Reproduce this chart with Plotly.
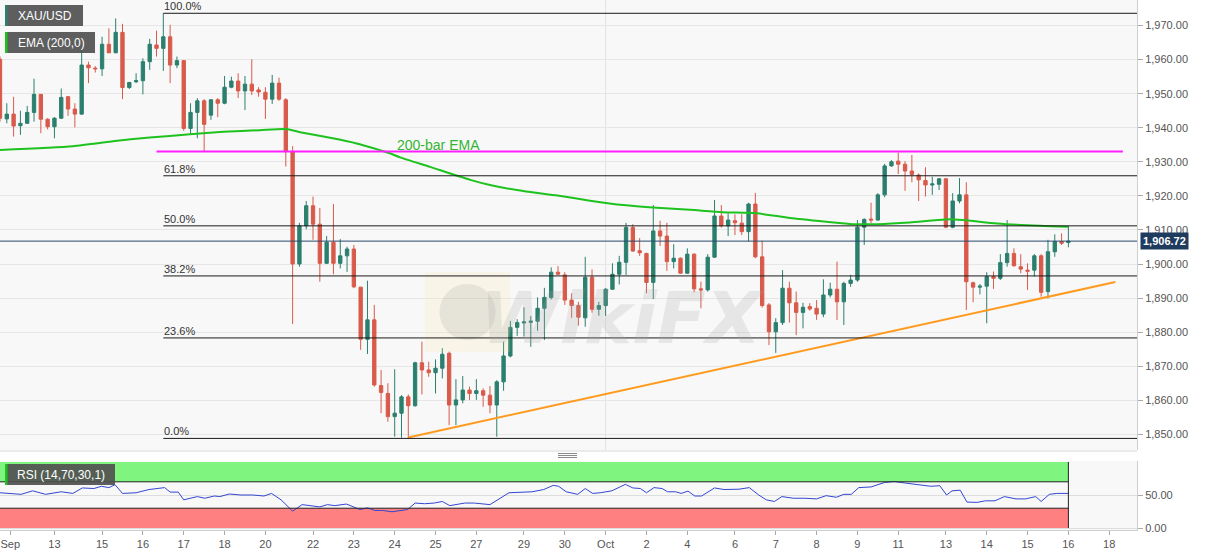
import plotly.graph_objects as go

# ---------------- data (4H XAU/USD candles, index = bar number) ----------------
opens = [1960.1, 1942.6, 1944.0, 1940.6, 1941.3, 1944.5, 1949.8, 1942.5, 1940.3, 1942.8,
         1949.1, 1945.5, 1944.0, 1958.4, 1957.5, 1957.3, 1964.5, 1962.0, 1968.0, 1951.8,
         1953.5, 1953.8, 1959.4, 1964.3, 1963.3, 1966.7, 1958.4, 1959.7, 1939.8, 1944.5,
         1947.9, 1943.7, 1948.2, 1947.2, 1951.9, 1953.7, 1950.8, 1952.8, 1951.1, 1950.4,
         1948.4, 1953.1, 1948.2, 1933.0, 1900.0, 1911.2, 1917.1, 1911.7, 1900.2, 1906.4,
         1900.2, 1902.4, 1904.4, 1893.2, 1877.9, 1883.6, 1864.3, 1862.0, 1855.2, 1856.2,
         1861.0, 1858.4, 1871.0, 1868.9, 1868.1, 1869.4, 1873.8, 1858.6, 1860.1, 1863.0,
         1862.0, 1862.8, 1861.5, 1858.6, 1865.4, 1873.0, 1881.4, 1882.7, 1882.9, 1883.2,
         1887.0, 1890.2, 1897.6, 1896.8, 1889.4, 1887.8, 1884.2, 1896.1, 1886.7, 1887.8,
         1892.6, 1897.0, 1900.5, 1910.7, 1903.9, 1903.1, 1894.6, 1909.7, 1908.2, 1900.7,
         1901.7, 1897.3, 1902.9, 1892.7, 1892.4, 1902.0, 1914.1, 1911.2, 1912.7, 1912.0,
         1909.5, 1917.6, 1902.1, 1888.0, 1880.1, 1882.8, 1892.9, 1888.6, 1885.8, 1887.5,
         1887.0, 1885.3, 1890.9, 1892.6, 1888.9, 1894.3, 1895.3, 1910.8, 1913.2, 1912.9,
         1920.3, 1928.8, 1930.2, 1929.3, 1927.3, 1926.1, 1924.5, 1923.2, 1923.4, 1925.0,
         1910.8, 1918.5, 1920.3, 1894.5, 1893.2, 1893.5, 1896.3, 1895.8, 1900.4, 1903.1,
         1899.2, 1898.2, 1898.2, 1902.4, 1891.9, 1903.6, 1906.6, 1906.3]
highs = [1960.9, 1947.2, 1949.1, 1945.0, 1946.4, 1954.4, 1949.9, 1942.8, 1943.1, 1951.5,
         1949.3, 1947.2, 1962.8, 1959.4, 1958.1, 1966.7, 1969.2, 1972.1, 1970.5, 1953.4,
         1956.0, 1960.4, 1966.1, 1968.5, 1973.6, 1970.2, 1960.9, 1959.9, 1947.2, 1948.7,
         1948.4, 1948.4, 1948.7, 1955.2, 1955.0, 1956.0, 1955.2, 1960.1, 1951.9, 1951.9,
         1955.5, 1954.7, 1948.7, 1934.6, 1912.1, 1918.5, 1919.8, 1916.4, 1908.2, 1917.6,
         1907.3, 1905.1, 1905.6, 1893.3, 1895.1, 1888.0, 1868.9, 1865.0, 1869.1, 1861.5,
         1861.7, 1871.3, 1877.2, 1871.3, 1872.0, 1875.3, 1874.3, 1866.2, 1867.1, 1864.0,
         1866.2, 1863.5, 1864.2, 1865.9, 1877.2, 1883.3, 1883.8, 1887.3, 1884.7, 1890.2,
         1893.0, 1899.0, 1899.4, 1897.6, 1891.4, 1888.9, 1902.1, 1898.4, 1888.9, 1892.9,
         1900.2, 1902.4, 1912.1, 1911.7, 1907.6, 1903.3, 1917.3, 1912.7, 1912.1, 1905.8,
         1901.9, 1904.6, 1903.1, 1894.8, 1902.9, 1918.8, 1917.3, 1914.9, 1914.6, 1914.6,
         1918.0, 1920.9, 1906.8, 1888.5, 1884.1, 1898.2, 1894.8, 1891.9, 1888.6, 1888.5,
         1889.4, 1895.5, 1894.5, 1900.7, 1894.8, 1896.8, 1912.9, 1913.4, 1918.0, 1920.8,
         1929.4, 1930.5, 1932.7, 1930.2, 1932.0, 1926.6, 1928.4, 1925.6, 1925.2, 1925.2,
         1920.8, 1925.2, 1924.0, 1894.8, 1894.1, 1897.6, 1897.8, 1902.9, 1912.9, 1904.6,
         1902.9, 1900.2, 1902.9, 1902.9, 1907.1, 1908.7, 1909.0, 1911.2]
lows = [1941.8, 1941.3, 1937.4, 1937.9, 1941.1, 1941.8, 1938.4, 1939.5, 1936.9, 1942.6,
        1943.5, 1940.1, 1943.8, 1953.1, 1956.2, 1955.2, 1961.9, 1961.9, 1948.4, 1951.4,
        1953.1, 1949.8, 1957.0, 1960.9, 1956.7, 1953.1, 1957.5, 1939.1, 1937.9, 1936.9,
        1933.0, 1942.3, 1943.1, 1946.9, 1951.6, 1948.7, 1945.2, 1949.6, 1949.1, 1942.6,
        1947.0, 1947.9, 1928.6, 1882.4, 1899.2, 1910.2, 1907.1, 1894.8, 1900.0, 1897.0,
        1898.7, 1897.7, 1892.9, 1874.8, 1873.6, 1864.0, 1856.2, 1853.7, 1849.3, 1849.0,
        1848.8, 1858.1, 1861.7, 1866.9, 1862.0, 1866.4, 1852.7, 1852.7, 1859.1, 1860.1,
        1860.1, 1858.1, 1856.2, 1849.3, 1862.8, 1872.6, 1878.9, 1878.7, 1875.7, 1880.4,
        1877.7, 1889.6, 1896.8, 1888.0, 1884.2, 1881.9, 1881.6, 1885.7, 1884.8, 1884.7,
        1892.4, 1894.0, 1896.8, 1903.6, 1902.4, 1891.4, 1889.7, 1905.3, 1898.0, 1898.7,
        1897.2, 1897.1, 1891.7, 1887.0, 1891.9, 1901.8, 1910.7, 1908.2, 1908.5, 1908.5,
        1906.6, 1901.7, 1887.2, 1876.2, 1873.9, 1882.1, 1882.8, 1879.1, 1881.1, 1886.3,
        1883.6, 1884.4, 1890.2, 1883.6, 1882.1, 1893.3, 1894.8, 1905.6, 1912.0, 1912.7,
        1919.6, 1928.6, 1926.4, 1921.5, 1924.0, 1918.5, 1919.8, 1920.3, 1921.7, 1910.5,
        1910.5, 1917.8, 1886.5, 1888.8, 1891.1, 1882.6, 1892.7, 1895.3, 1899.2, 1899.2,
        1897.3, 1892.4, 1896.3, 1890.4, 1889.9, 1902.1, 1905.6, 1904.9]
closes = [1942.8, 1944.0, 1940.5, 1941.3, 1944.5, 1949.8, 1942.5, 1940.3, 1942.8, 1948.9,
          1945.5, 1944.0, 1958.4, 1957.6, 1957.3, 1964.5, 1962.0, 1968.0, 1951.8, 1953.3,
          1953.8, 1959.4, 1964.5, 1963.3, 1966.7, 1958.4, 1959.7, 1939.8, 1944.5, 1947.9,
          1941.0, 1948.2, 1947.2, 1951.9, 1953.7, 1950.8, 1952.8, 1950.8, 1950.5, 1948.4,
          1953.1, 1948.4, 1933.0, 1900.0, 1911.2, 1917.1, 1911.7, 1900.2, 1906.4, 1900.2,
          1902.4, 1904.4, 1893.3, 1877.9, 1883.6, 1864.5, 1862.3, 1855.2, 1856.2, 1861.0,
          1858.4, 1871.0, 1868.9, 1868.1, 1869.4, 1873.5, 1858.6, 1860.1, 1863.0, 1862.0,
          1862.8, 1861.5, 1858.6, 1865.4, 1873.0, 1881.4, 1882.8, 1883.0, 1883.2, 1887.0,
          1890.2, 1897.6, 1897.0, 1889.4, 1887.8, 1884.4, 1896.1, 1886.7, 1887.8, 1892.6,
          1897.0, 1900.5, 1910.7, 1903.8, 1903.3, 1894.6, 1909.7, 1908.2, 1900.7, 1901.7,
          1897.3, 1902.9, 1892.7, 1892.4, 1902.0, 1914.1, 1911.2, 1912.9, 1912.1, 1909.5,
          1917.6, 1902.1, 1887.8, 1880.1, 1882.8, 1892.9, 1888.6, 1885.8, 1887.3, 1886.8,
          1885.3, 1890.9, 1892.6, 1888.9, 1894.3, 1895.3, 1910.8, 1913.1, 1912.9, 1920.3,
          1928.8, 1930.0, 1929.3, 1927.3, 1926.3, 1924.7, 1923.2, 1923.5, 1925.0, 1910.8,
          1918.5, 1920.3, 1894.8, 1893.2, 1893.5, 1896.3, 1895.8, 1900.4, 1903.1, 1899.5,
          1898.5, 1897.9, 1902.4, 1891.7, 1903.6, 1906.6, 1906.1, 1906.72]
bar_idx = list(range(len(opens)))

# 200-bar EMA
ema_x = [0, 10.7, 17.2, 22.0, 27.9, 32.8, 38.2, 42.0, 44.1, 48.9, 52.4, 54.9, 57.3, 58.8,
         63.2, 69.1, 72.0, 76.9, 81.9, 86.7, 91.6, 96.5, 101.4, 106.2, 111.2, 116.1, 121.5,
         125.3, 128.9, 133.7, 138.9, 141.5, 146.5, 152.8, 157]
ema_v = [1933.5, 1934.6, 1936.2, 1937.1, 1938.1, 1938.8, 1939.3, 1939.6, 1938.7, 1936.9,
         1935.4, 1934.0, 1932.5, 1931.3, 1928.5, 1924.7, 1923.2, 1921.4, 1920.1, 1918.6,
         1917.3, 1916.5, 1915.9, 1915.2, 1914.9, 1913.5, 1912.4, 1911.7, 1911.7, 1912.2,
         1913.1, 1912.9, 1911.9, 1911.2, 1910.9]

# RSI(14)
rsi_x = [0, 1.7, 3.1, 4.8, 6.7, 9.0, 10.7, 12.1, 13.8, 14.9, 16.0, 16.9, 18.0, 20.0, 21.9,
         24.2, 25.0, 26.2, 27.0, 29.0, 30.1, 31.5, 32.3, 33.7, 35.4, 37.1, 38.8, 39.9, 41.3,
         43.0, 44.4, 47.0, 48.1, 49.2, 50.9, 52.9, 54.0, 55.1, 56.2, 57.6, 58.8, 59.9, 61.0,
         62.4, 63.8, 65.0, 66.1, 68.3, 69.7, 72.0, 74.8, 78.2, 79.9, 81.3, 82.1, 83.2, 84.9,
         86.0, 87.1, 88.2, 89.9, 91.9, 93.0, 94.1, 95.0, 96.1, 97.3, 98.1, 99.3, 100.1,
         101.1, 102.1, 103.1, 105.0, 106.4, 108.6, 110.1, 111.5, 112.6, 113.8, 114.9, 116.6,
         118.3, 120.0, 121.4, 122.9, 124.0, 125.1, 126.2, 128.0, 130.0, 131.4, 133.1, 135.4,
         136.8, 138.1, 139.1, 139.9, 141.1, 142.1, 143.6, 144.8, 146.2, 147.6, 149.3, 150.7,
         152.2, 153.0, 154.2, 155.3, 157.0]
rsi_v = [53.4, 52.4, 51.0, 56.3, 51.0, 54.9, 52.4, 60.7, 59.8, 63.2, 61.2, 65.6, 52.4, 53.4,
         58.3, 61.2, 54.4, 54.4, 42.7, 47.6, 45.1, 48.5, 47.6, 51.5, 50.0, 50.0, 48.5, 52.4,
         42.7, 25.6, 35.4, 32.0, 35.4, 33.9, 36.3, 28.0, 30.5, 26.6, 26.6, 24.6, 26.6, 28.0,
         37.8, 36.8, 37.8, 40.2, 33.9, 37.8, 37.8, 35.4, 53.4, 54.9, 58.3, 64.6, 63.2, 54.9,
         51.0, 59.8, 52.4, 53.4, 56.3, 66.1, 60.7, 59.8, 53.4, 61.2, 59.8, 54.9, 54.9, 52.4,
         55.9, 48.5, 48.5, 60.7, 58.3, 58.8, 61.2, 50.0, 42.7, 40.2, 47.6, 45.1, 45.1, 44.1,
         49.0, 46.6, 51.0, 51.0, 61.2, 62.2, 69.0, 70.5, 68.0, 64.6, 63.2, 64.1, 50.0, 56.3,
         57.3, 39.3, 38.8, 41.2, 41.2, 47.6, 44.1, 44.1, 47.6, 40.2, 51.0, 52.4, 52.4]

# Fibonacci retracement (high 1973.6 -> low 1848.8)
fib_labels = ["100.0%", "61.8%", "50.0%", "38.2%", "23.6%", "0.0%"]
fib_levels = [1973.6, 1925.9, 1911.2, 1896.5, 1878.3, 1848.8]
fib_start = 24

# support trendline and resistance line
trend_x = [60, 163.9]
trend_y = [1849.1, 1894.7]
res_x = [23.0, 165.0]
res_level = 1933.0
last_price = 1906.72

tick_pos = [1.5, 8, 15, 21, 27, 33, 39, 46, 52, 58, 64, 70, 77, 83, 89, 95, 101, 108, 114,
            120, 126, 132, 139, 145, 151, 157, 163]
tick_txt = ["Sep", "13", "15", "16", "17", "18", "20", "22", "23", "24", "25", "27", "29",
            "30", "Oct", "2", "4", "6", "7", "8", "9", "11", "13", "14", "15", "16", "18"]
month_break = 89

# ---------------- layout geometry ----------------
W, H = 1207, 555
MR, MB = 70, 25
PW, PH = W - MR, H - MB
BAR_PX = 6.805
XMIN, XMAX = 0, PW / BAR_PX


def px(x):
    return x / PW


def py(y):
    return (PH - y) / PH


TEAL = "#2b7f6e"
RED = "#d85a4a"
FONT = "Arial"

fig = go.Figure()
fig.add_trace(go.Candlestick(
    x=bar_idx, open=opens, high=highs, low=lows, close=closes,
    increasing=dict(line=dict(color=TEAL, width=1), fillcolor=TEAL),
    decreasing=dict(line=dict(color=RED, width=1), fillcolor=RED),
    whiskerwidth=0, hoverinfo="skip", showlegend=False, xaxis="x", yaxis="y"))
fig.add_trace(go.Scatter(x=ema_x, y=ema_v, mode="lines",
                         line=dict(color="#1ec21e", width=2, shape="spline", smoothing=0.6),
                         hoverinfo="skip", showlegend=False, xaxis="x", yaxis="y"))
fig.add_trace(go.Scatter(x=trend_x, y=trend_y, mode="lines",
                         line=dict(color="#ff9a1e", width=2),
                         hoverinfo="skip", showlegend=False, xaxis="x", yaxis="y"))
fig.add_trace(go.Scatter(x=res_x, y=[res_level, res_level], mode="lines",
                         line=dict(color="#ff1eff", width=2),
                         hoverinfo="skip", showlegend=False, xaxis="x", yaxis="y"))
fig.add_trace(go.Scatter(x=rsi_x, y=rsi_v, mode="lines",
                         line=dict(color="#3346d2", width=1),
                         hoverinfo="skip", showlegend=False, xaxis="x2", yaxis="y2"))

shapes = []
annotations = []

# faint watermark logo
wm_x0, wm_y0, wm_x1, wm_y1 = 425, 272, 510, 352
shapes.append(dict(type="rect", xref="paper", yref="paper", x0=px(wm_x0), x1=px(wm_x1),
                   y0=py(wm_y1), y1=py(wm_y0), fillcolor="rgba(250,225,140,0.16)",
                   line=dict(width=0)))
cx, cy, r = (wm_x0 + wm_x1) / 2, (wm_y0 + wm_y1) / 2, (wm_x1 - wm_x0) * 0.33
shapes.append(dict(type="circle", xref="paper", yref="paper", x0=px(cx - r), x1=px(cx + r),
                   y0=py(cy + r), y1=py(cy - r), fillcolor="rgba(150,150,150,0.18)",
                   line=dict(width=0)))
annotations.append(dict(x=px(622), y=py(318), xref="paper", yref="paper",
                        text="<b><i>WikiFX</i></b>", showarrow=False,
                        font=dict(family="DejaVu Sans", size=72,
                                  color="rgba(170,170,170,0.22)")))

# month vertical grid line
shapes.append(dict(type="line", xref="x", yref="y", x0=month_break, x1=month_break,
                   y0=1845.4, y1=1977.5, line=dict(color="#e2e2e2", width=1), layer="below"))
# last price line
shapes.append(dict(type="line", xref="x", yref="y", x0=XMIN, x1=XMAX, y0=last_price,
                   y1=last_price, line=dict(color="#2a4a6c", width=1)))
# fib lines + labels
for lab, lev in zip(fib_labels, fib_levels):
    shapes.append(dict(type="line", xref="x", yref="y", x0=fib_start, x1=XMAX, y0=lev, y1=lev,
                       line=dict(color="#1a1a1a", width=1)))
    annotations.append(dict(x=fib_start, y=lev, xref="x", yref="y", text=lab, showarrow=False,
                            xanchor="left", yanchor="bottom", xshift=-1, yshift=-1,
                            font=dict(family=FONT, size=11, color="#333")))
annotations.append(dict(x=58.0, y=1934.9, xref="x", yref="y", text="200-bar EMA",
                        showarrow=False, xanchor="left", yanchor="middle",
                        font=dict(family=FONT, size=14, color="#33b533")))

# RSI bands
shapes.append(dict(type="rect", xref="x2", yref="y2", x0=XMIN - 1, x1=157, y0=70, y1=100,
                   fillcolor="#7ff57f", line=dict(width=0), layer="below"))
shapes.append(dict(type="rect", xref="x2", yref="y2", x0=XMIN - 1, x1=157, y0=0, y1=30,
                   fillcolor="#ff8080", line=dict(width=0), layer="below"))
for lv in (70, 30):
    shapes.append(dict(type="line", xref="x2", yref="y2", x0=XMIN, x1=157, y0=lv, y1=lv,
                       line=dict(color="#222", width=1)))
shapes.append(dict(type="line", xref="x2", yref="y2", x0=157, x1=157, y0=0, y1=100,
                   line=dict(color="#222", width=1)))

# pane separator + handle
shapes.append(dict(type="line", xref="paper", yref="paper", x0=0, x1=1, y0=py(451), y1=py(451),
                   line=dict(color="#d6d6d6", width=1)))
for yy in (453.5, 455.5, 457.5):
    shapes.append(dict(type="line", xref="paper", yref="paper", x0=px(558), x1=px(577),
                       y0=py(yy), y1=py(yy), line=dict(color="#8a8a8a", width=1)))


# legend-like boxes
def label_box(x0, y0, w, h, text, stripe):
    shapes.append(dict(type="rect", xref="paper", yref="paper", x0=px(x0), x1=px(x0 + w),
                       y0=py(y0 + h), y1=py(y0), fillcolor="rgba(80,80,80,0.92)",
                       line=dict(width=0)))
    shapes.append(dict(type="rect", xref="paper", yref="paper", x0=px(x0), x1=px(x0 + 2.5),
                       y0=py(y0 + h), y1=py(y0), fillcolor=stripe, line=dict(width=0)))
    annotations.append(dict(x=px(x0 + w / 2 + 1), y=py(y0 + h / 2), xref="paper", yref="paper",
                            text=text, showarrow=False, xanchor="center", yanchor="middle",
                            font=dict(family=FONT, size=12, color="white")))


label_box(5, 5, 78, 21, "XAU/USD", TEAL)
label_box(5, 32, 90, 21, "EMA (200,0)", "#1ec21e")
label_box(5, 464, 110, 21, "RSI (14,70,30,1)", "#1ec21e")

# last price tag
annotations.append(dict(x=1, y=last_price, xref="paper", yref="y", text="<b>1,906.72</b>",
                        showarrow=False, xanchor="left", yanchor="middle", xshift=3,
                        bgcolor="#1f3b5e", borderpad=2,
                        font=dict(family=FONT, size=11, color="white")))

axis_font = dict(family=FONT, size=11, color="#555")
fig.update_layout(
    width=W, height=H, margin=dict(l=0, r=MR, t=0, b=MB),
    paper_bgcolor="#ffffff", plot_bgcolor="#f8f8f8", showlegend=False,
    xaxis=dict(domain=[0, 1], range=[XMIN, XMAX], anchor="y", showticklabels=False,
               showgrid=False, zeroline=False, rangeslider=dict(visible=False), ticks=""),
    yaxis=dict(domain=[py(450), 1], range=[1845.4, 1977.5], side="right", dtick=10,
               tick0=1850, tickformat=",.2f", ticks="outside", ticklen=5, tickcolor="#aaa",
               showline=True, linecolor="#cfcfcf", gridcolor="#e6e6e6", zeroline=False,
               tickfont=axis_font),
    xaxis2=dict(domain=[0, 1], range=[XMIN, XMAX], anchor="y2", matches="x",
                tickmode="array", tickvals=tick_pos, ticktext=tick_txt, ticks="outside",
                ticklen=4, tickcolor="#aaa", showgrid=False, zeroline=False,
                showline=True, linecolor="#cfcfcf", tickfont=axis_font,
                ticklabeloverflow="allow"),
    yaxis2=dict(domain=[0, py(461)], range=[-3, 101.5], side="right", tickmode="array",
                tickvals=[0, 50], ticktext=["0.00", "50.00"], ticks="outside", ticklen=5,
                tickcolor="#aaa", showline=True, linecolor="#cfcfcf", gridcolor="#dddddd",
                zeroline=False, tickfont=axis_font),
    shapes=shapes, annotations=annotations,
)

fig.write_html(
    "out.html",
    config=dict(displayModeBar=False, staticPlot=True),
    post_script="document.body.style.margin='0';document.body.style.overflow='hidden';",
)
